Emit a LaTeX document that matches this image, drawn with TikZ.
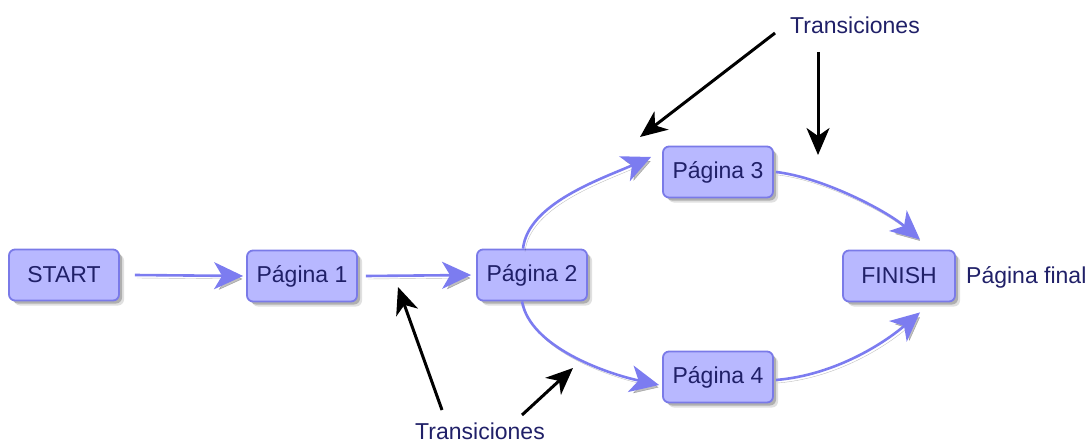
\documentclass[tikz,border=0pt]{standalone}
\usepackage{fontspec}
\setmainfont{Liberation Sans}
\usetikzlibrary{arrows.meta,shadows,calc}
\definecolor{boxfill}{RGB}{184,184,255}
\definecolor{boxline}{RGB}{122,122,232}
\definecolor{inkblue}{RGB}{32,32,104}
\definecolor{linkblue}{RGB}{124,124,240}
\begin{document}
\begin{tikzpicture}[x=1pt,y=-1pt,
  page/.style={draw=boxline, line width=1.8pt, fill=boxfill, rounded corners=6pt,
    minimum width=110pt, minimum height=51pt, inner sep=0pt, text=inkblue,
    font=\fontsize{23}{24}\selectfont,
    drop shadow={shadow xshift=3pt, shadow yshift=-3pt, opacity=0.22, fill=black},
    drop shadow={shadow xshift=5pt, shadow yshift=-5pt, opacity=0.12, fill=black}},
  note/.style={text=inkblue, font=\fontsize{23}{24}\selectfont, inner sep=0pt},
  link/.style={draw=linkblue, line width=2.6pt,
    -{Stealth[length=29pt,width=27pt,inset=8pt]},
    preaction={draw=black, opacity=0.25, transform canvas={shift={(2pt,-3pt)}}}},
  hint/.style={draw=black, line width=3pt, -{Stealth[length=27pt,width=23pt,inset=8pt]}},
]
\useasboundingbox (0,0) rectangle (1091,444);

% pages
\node[page] (start) at (64,275) {START};
\node[page] (p1) at (302,276) {Página 1};
\node[page] (p2) at (532,275) {Página 2};
\node[page] (p3) at (718,172) {Página 3};
\node[page] (p4) at (718,377) {Página 4};
\node[page, minimum width=112pt] (fin) at (899,276) {FINISH};

% captions
\node[note, anchor=west] (finlbl) at (966,277) {Página final};
\node[note] (t1) at (855,25) {Transiciones};
\node[note] (t2) at (480,431) {Transiciones};

% transitions between pages
\draw[link] ([xshift=15pt]start.east) -- ([xshift=-3pt]p1.west);
\draw[link] ([xshift=8pt]p1.east) -- ([xshift=-5pt]p2.west);
\draw[link] ([xshift=-9pt]p2.north) .. controls +(5,-45) and +(-50,22) .. ([shift={(-11,-15)}]p3.west);
\draw[link] ([xshift=2pt]p3.east) .. controls +(45,5) and +(-35,-30) .. ([shift={(21,-10)}]fin.north);
\draw[link] ([xshift=-10pt]p2.south) .. controls +(8,45) and +(-55,-12) .. ([shift={(-3,8)}]p4.west);
\draw[link] ([shift={(2,3)}]p4.east) .. controls +(60,-5) and +(-35,30) .. ([shift={(21,10)}]fin.south);

% pointers from the captions
\coordinate (h1) at (640,137);
\coordinate (h2) at (818,155);
\coordinate (h3) at (398,287);
\coordinate (h4) at (573,368);
\draw[hint] ([shift={(-15,8)}]t1.west) -- (h1);
\draw[hint] ([shift={(-37,27)}]t1.center) -- (h2);
\draw[hint] ([shift={(-38,-21)}]t2.center) -- (h3);
\draw[hint] ([shift={(42,-16)}]t2.center) -- (h4);
\end{tikzpicture}
\end{document}
